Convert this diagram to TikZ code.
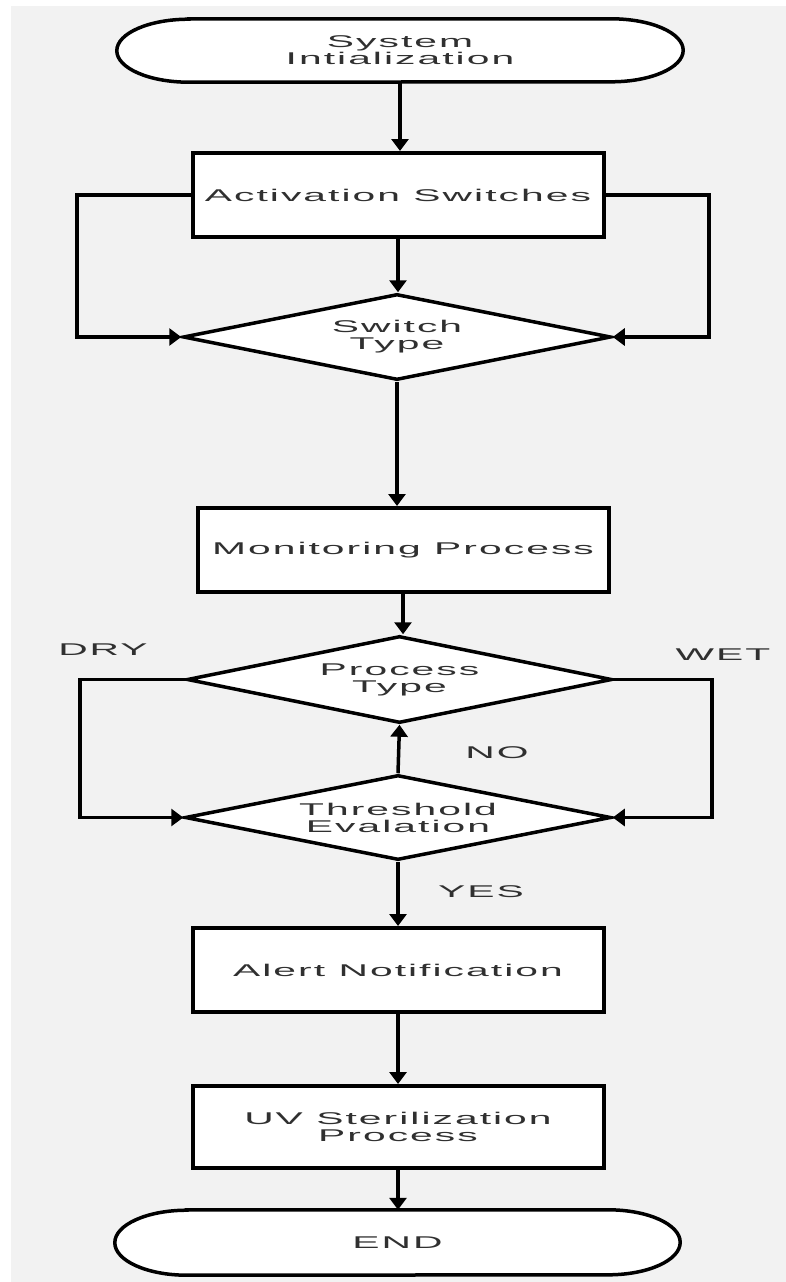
\documentclass[tikz,border=0pt]{standalone}
\usepackage{fontspec}
\setmainfont{Liberation Sans}
\newfontfamily\widefont[LetterSpace=5]{Liberation Sans}
\usetikzlibrary{shapes.geometric,arrows.meta}
\definecolor{bg}{HTML}{F2F2F2}
\definecolor{txt}{HTML}{303030}
\newcommand{\wt}[1]{\scalebox{2.4}[1]{\widefont #1}}
\pgfdeclarelayer{background}
\pgfsetlayers{background,main}
\begin{document}
\begin{tikzpicture}[x=1pt,y=-1pt,
  every node/.style={text=txt, align=center, inner sep=0pt, font=\fontsize{17}{17}\selectfont},
  procbox/.style={draw=black, line width=4pt, fill=white, rectangle, minimum width=411pt, minimum height=84pt},
  term/.style={rectangle, minimum width=566pt, minimum height=63pt},
  termline/.style={draw=black, line width=3.5pt, fill=white},
  decision/.style={draw=black, line width=3.5pt, fill=white, diamond, aspect=5, minimum width=428pt, minimum height=86pt},
  conn/.style={draw=black, line width=3.5pt, -{Triangle[length=12pt,width=17pt]}}
]
\useasboundingbox (0,0) rectangle (786,1282);

\node[term] (start) at (400,50.5) {\wt{System}\\\wt{Intialization}};
\node[procbox] (act) at (398,195) {\wt{Activation Switches}};
\node[decision] (switch) at (397,337) {\wt{Switch}\\\wt{Type}};
\node[procbox] (mon) at (403,550) {\wt{Monitoring Process}};
\node[decision, minimum width=425pt, minimum height=87pt] (proc) at (399.5,679.5) {\wt{Process}\\\wt{Type}};
\node[decision, minimum width=426pt, minimum height=85pt] (thr) at (398,817.5) {\wt{Threshold}\\\wt{Evalation}};
\node[procbox] (alert) at (398,970) {\wt{Alert Notification}};
\node[procbox, minimum height=82pt] (uv) at (398,1127) {\wt{UV Sterilization}\\\wt{Process}};
\node[term, minimum width=565pt, minimum height=65pt] (end) at (397.5,1242.5) {\wt{END}};

\begin{pgfonlayer}{background}
\fill[white] (0,0) rectangle (786,1282);
\fill[bg] (11,6) rectangle (786,1282);
\path[termline] ([xshift=72pt]start.north west) -- ([xshift=-72pt]start.north east)
  arc[start angle=90, end angle=-90, x radius=72pt, y radius=31.5pt]
  -- ([xshift=72pt]start.south west)
  arc[start angle=270, end angle=90, x radius=72pt, y radius=31.5pt] -- cycle;
\path[termline] ([xshift=72pt]end.north west) -- ([xshift=-72pt]end.north east)
  arc[start angle=90, end angle=-90, x radius=72pt, y radius=32.5pt]
  -- ([xshift=72pt]end.south west)
  arc[start angle=270, end angle=90, x radius=72pt, y radius=32.5pt] -- cycle;
\end{pgfonlayer}

\node (dry) at (103,650) {\wt{DRY}};
\node (wet) at (723,655) {\wt{WET}};
\node (no) at (497,753) {\wt{NO}};
\node (yes) at (481,892) {\wt{YES}};

\coordinate (l1) at (77,0);
\coordinate (r1) at (709,0);
\coordinate (l2) at (80,0);
\coordinate (r2) at (712,0);

\draw[conn] (start.south) -- (start.south |- act.north);
\draw[conn] (act) -- (act |- switch.north);
\draw[conn] (act.west) -- (act.west -| l1) |- (switch.west);
\draw[conn] (act.east) -- (act.east -| r1) |- (switch.east);
\draw[conn] (switch.south) -- (switch.south |- mon.north);
\draw[conn] (mon.south) -- (mon.south |- proc.north);
\draw[conn] (proc.west) -- (proc.west -| l2) |- (thr.west);
\draw[conn] (proc.east) -- (proc.east -| r2) |- (thr.east);
\draw[conn] (thr.north) -- (proc.south);
\draw[conn] (thr.south) -- (thr.south |- alert.north);
\draw[conn] (alert) -- (alert |- uv.north);
\draw[conn] (uv) -- (uv |- end.north);
\end{tikzpicture}
\end{document}
